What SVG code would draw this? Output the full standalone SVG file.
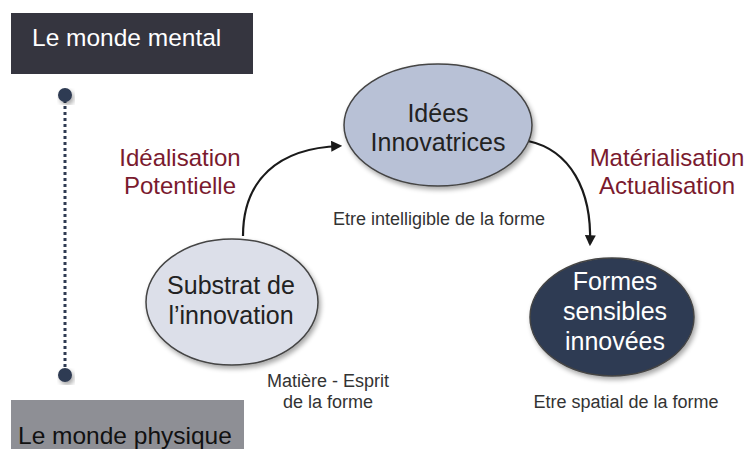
<svg xmlns="http://www.w3.org/2000/svg" width="749" height="449" viewBox="0 0 749 449">
<style>
text{font-family:"Liberation Sans",Arial,sans-serif}
.node{font-size:25px;text-anchor:middle}
.cap{font-size:18px;fill:#333;text-anchor:middle}
.red{font-size:24px;fill:#7a1a2e;text-anchor:middle}
.con{fill:none;stroke:#1a1a1a;stroke-width:2.2}
.ell{stroke:#444;stroke-width:1.5}
</style>
<defs>
<marker id="ah" viewBox="0 0 10 10" refX="8" refY="5" markerWidth="5" markerHeight="5" orient="auto" markerUnits="strokeWidth"><path d="M0,0 L10,5 L0,10 z" fill="#1a1a1a"/></marker>
<filter id="sh" x="-20%" y="-20%" width="140%" height="140%"><feGaussianBlur in="SourceAlpha" stdDeviation="2.5"/><feOffset dx="2" dy="3"/><feComponentTransfer><feFuncA type="linear" slope="0.35"/></feComponentTransfer><feMerge><feMergeNode/><feMergeNode in="SourceGraphic"/></feMerge></filter>
</defs>
<rect width="749" height="449" fill="#fff"/>
<g id="mental">
<rect x="11" y="13" width="242" height="61" fill="#35353f"/>
<text x="32" y="46" font-size="24.5" fill="#fff">Le monde mental</text>
</g>
<g id="physique">
<rect x="11" y="400" width="233" height="49" fill="#8e8f95"/>
<text x="18" y="444" font-size="24.5" fill="#111">Le monde physique</text>
</g>
<g id="axis">
<line x1="65" y1="100" x2="65" y2="370" stroke="#2f3b52" stroke-width="3" stroke-dasharray="3 3"/>
<circle cx="65" cy="95" r="7" fill="#2f3b52" filter="url(#sh)"/>
<circle cx="65" cy="375" r="7" fill="#2f3b52" filter="url(#sh)"/>
</g>
<g id="connectors">
<path class="con" d="M243 236 C243 180 278 148 340 146" marker-end="url(#ah)"/>
<path class="con" d="M528 141 C570 150 592 190 590 244" marker-end="url(#ah)"/>
</g>
<g id="idees">
<ellipse class="ell" cx="438" cy="125" rx="94" ry="61" fill="#b8c1d6" filter="url(#sh)"/>
<text class="node" x="438" y="122" fill="#222">Idées</text>
<text class="node" x="438" y="151" fill="#222">Innovatrices</text>
<text class="cap" x="439" y="225">Etre intelligible de la forme</text>
</g>
<g id="substrat">
<ellipse class="ell" cx="232" cy="302" rx="86" ry="63" fill="#dcdfe9" filter="url(#sh)"/>
<text class="node" x="231" y="294" fill="#222">Substrat de</text>
<text class="node" x="231" y="324" fill="#222">l’innovation</text>
<text class="cap" x="328" y="387">Matière - Esprit</text>
<text class="cap" x="328" y="408">de la forme</text>
</g>
<g id="formes">
<ellipse class="ell" cx="612" cy="317" rx="82" ry="59" fill="#2f3b52" filter="url(#sh)"/>
<text class="node" x="615" y="290" fill="#fff">Formes</text>
<text class="node" x="615" y="320" fill="#fff">sensibles</text>
<text class="node" x="615" y="350" fill="#fff">innovées</text>
<text class="cap" x="626" y="408">Etre spatial de la forme</text>
</g>
<g id="labels">
<text class="red" x="180" y="166">Idéalisation</text>
<text class="red" x="180" y="194">Potentielle</text>
<text class="red" x="667" y="166">Matérialisation</text>
<text class="red" x="667" y="194">Actualisation</text>
</g>
</svg>
